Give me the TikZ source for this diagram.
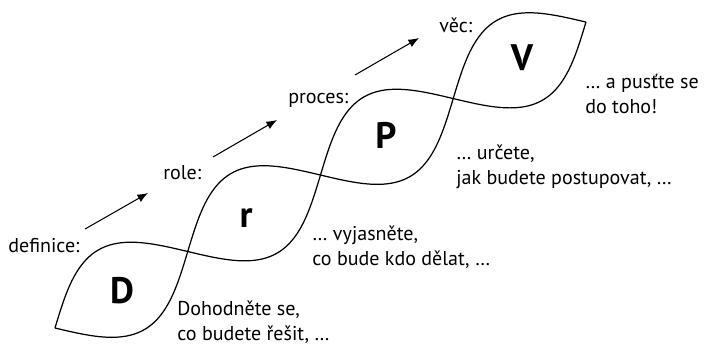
\documentclass[tikz,border=0pt]{standalone}
\usepackage{fontspec}
\setmainfont{PT Sans}
\usetikzlibrary{arrows.meta}

\begin{document}
\begin{tikzpicture}[x=0.02cm,y=0.02cm,
  stage/.style={anchor=base west,inner sep=0pt,font=\fontsize{11.4}{14}\selectfont},
  note/.style={anchor=base west,inner sep=0pt,align=left,font=\fontsize{11.4}{14.2}\selectfont},
  letter/.style={anchor=base,inner sep=0pt,font=\fontsize{21}{24}\selectfont\bfseries},
  strand/.style={line width=0.7pt},
  go/.style={-{Latex[length=6pt,width=4.8pt]},line width=0.6pt}]
\useasboundingbox (0,0) rectangle (707,-345);

\pgfmathsetmacro{\seg}{153.2};
\pgfmathsetmacro{\amp}{46};

\coordinate (t0) at (55,-328);
\coordinate (t4) at (586,-22);

% the two strands
\begin{scope}[shift={(t0)},rotate=29.95]
\draw[strand] plot[domain=0:4*\seg,samples=161,smooth] (\x,{\amp*sin(\x/\seg*180)});
\draw[strand] plot[domain=0:4*\seg,samples=161,smooth] (\x,{-\amp*sin(\x/\seg*180)});
\end{scope}

\node[letter] (d) at (122,-303) {D};
\node[letter] (r) at (246,-227) {r};
\node[letter] (p) at (386,-148) {P};
\node[letter] (v) at (522,-70) {V};

\node[stage] (def) at (8,-252) {definice:};
\node[stage] (rol) at (163,-179) {role:};
\node[stage] (pro) at (288,-103) {proces:};
\node[stage] (vec) at (439,-32) {věc:};

\coordinate (a1) at (85,-229);
\coordinate (b1) at (148,-193);
\coordinate (a2) at (213,-157);
\coordinate (b2) at (277,-120);
\coordinate (a3) at (355,-75);
\coordinate (b3) at (419,-38);
\draw[go] (a1) -- (b1);
\draw[go] (a2) -- (b2);
\draw[go] (a3) -- (b3);

% base anchor sits on the last line
\node[note] (n1) at (177,-340) {Dohodněte se,\\co budete řešit, …};
\node[note] (n2) at (312,-265) {… vyjasněte,\\co bude kdo dělat, …};
\node[note] (n3) at (456,-184) {… určete,\\jak budete postupovat, …};
\node[note] (n4) at (585,-113) {… a pusťte se\\do toho!};

\end{tikzpicture}
\end{document}
